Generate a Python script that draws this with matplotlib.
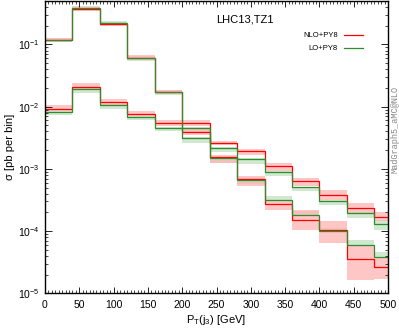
import numpy as np
import matplotlib
matplotlib.use("Agg")
import matplotlib.pyplot as plt
from matplotlib.ticker import LogLocator, MultipleLocator, LogFormatterSciNotation

plt.rcParams['font.family'] = ['Liberation Sans', 'DejaVu Sans']
plt.rcParams['mathtext.fontset'] = 'custom'
plt.rcParams['mathtext.rm'] = 'Liberation Sans'
plt.rcParams['mathtext.it'] = 'Liberation Sans:italic'

# bin edges (GeV)
edges = [0, 40, 80, 120, 160, 200, 240, 280, 320, 360, 400, 440, 480, 500]

# histogram 1 (steeply falling)
h1_nlo    = [0.116, 0.371, 0.215, 0.0617, 0.0172, 0.00389, 0.00156, 0.00069, 0.000272, 0.000152, 0.000105, 3.57e-5, 2.63e-5]
h1_nlo_lo = [0.108, 0.345, 0.200, 0.0570, 0.0158, 0.00357, 0.00125, 0.000538, 0.000221, 0.000105, 6.4e-5, 1.64e-5, 1.68e-5]
h1_nlo_hi = [0.126, 0.400, 0.232, 0.0670, 0.0187, 0.00430, 0.00170, 0.00078, 0.00032, 0.00022, 0.000148, 5.8e-5, 3.9e-5]
h1_lo     = [0.117, 0.389, 0.220, 0.0601, 0.0170, 0.00316, 0.00147, 0.00066, 0.00032, 0.000183, 0.000101, 6.0e-5, 3.81e-5]
h1_lo_lo  = [0.110, 0.360, 0.205, 0.0550, 0.0155, 0.00262, 0.00125, 0.00058, 0.000315, 0.000178, 9.9e-5, 5.9e-5, 3.75e-5]
h1_lo_hi  = [0.126, 0.420, 0.235, 0.0650, 0.0183, 0.00330, 0.00155, 0.00072, 0.00037, 0.000207, 0.000112, 7.2e-5, 4.69e-5]

# histogram 2 (slowly falling)
h2_nlo    = [0.0092, 0.0210, 0.0119, 0.0077, 0.0054, 0.0054, 0.00262, 0.00192, 0.00113, 0.00063, 0.000385, 0.000239, 0.000167]
h2_nlo_lo = [0.0085, 0.0190, 0.0108, 0.0070, 0.0049, 0.00486, 0.00238, 0.0017, 0.00094, 0.000524, 0.00032, 0.000195, 0.000147]
h2_nlo_hi = [0.0105, 0.0244, 0.0134, 0.0086, 0.0060, 0.00608, 0.00286, 0.0021, 0.00125, 0.000716, 0.00045, 0.000283, 0.000205]
h2_lo     = [0.0083, 0.0195, 0.0108, 0.0069, 0.0046, 0.0046, 0.00218, 0.00145, 0.000895, 0.000505, 0.000308, 0.000193, 0.000131]
h2_lo_lo  = [0.0074, 0.0164, 0.0093, 0.0060, 0.0040, 0.00381, 0.00185, 0.0012, 0.00076, 0.000435, 0.00026, 0.000165, 0.000105]
h2_lo_hi  = [0.0085, 0.0197, 0.0110, 0.0071, 0.0047, 0.0047, 0.00222, 0.00148, 0.00092, 0.00052, 0.000315, 0.0002, 0.000152]

RED = '#ff0000'
GREEN = '#2e8b2e'
RED_BAND = '#ffb3b3'
GREEN_BAND = '#c3e3c3'

fig = plt.figure(figsize=(3.99, 3.29), dpi=100)
ax = fig.add_axes([45/399, 1 - 293.3/329, 343/399, 292.3/329])

for lo, hi in [(h1_lo_lo, h1_lo_hi), (h2_lo_lo, h2_lo_hi)]:
    ax.stairs(hi, edges, baseline=lo, fill=True, color=GREEN_BAND, alpha=0.8, lw=0)
for lo, hi in [(h1_nlo_lo, h1_nlo_hi), (h2_nlo_lo, h2_nlo_hi)]:
    ax.stairs(hi, edges, baseline=lo, fill=True, color=RED_BAND, alpha=0.75, lw=0)

for v in [h1_nlo, h2_nlo]:
    ax.stairs(v, edges, baseline=None, color=RED, lw=0.9)
for v in [h1_lo, h2_lo]:
    ax.stairs(v, edges, baseline=None, color=GREEN, lw=0.9)

ax.set_yscale('log')
ax.set_xlim(0, 500)
ax.set_ylim(1e-5, 0.5)

ax.xaxis.set_major_locator(MultipleLocator(50))
ax.xaxis.set_minor_locator(MultipleLocator(5))
ax.yaxis.set_major_locator(LogLocator(base=10, numticks=10))
ax.yaxis.set_minor_locator(LogLocator(base=10, subs=np.arange(2, 10), numticks=20))
ax.yaxis.set_major_formatter(LogFormatterSciNotation())

ax.tick_params(which='both', direction='in', top=True, right=True, colors='black')
ax.tick_params(axis='x', which='major', length=4, width=0.6, labelsize=7.5, pad=5)
ax.tick_params(axis='x', which='minor', length=2, width=0.5)
ax.tick_params(axis='y', which='major', length=5, width=0.6, labelsize=7.5, pad=4)
ax.tick_params(axis='y', which='minor', length=2.5, width=0.5)
for s in ax.spines.values():
    s.set_linewidth(1.0)
    s.set_color('black')

ax.set_xlabel(r'P$_\mathregular{T}$(j$_\mathregular{3}$) [GeV]', fontsize=8, labelpad=2)
ax.set_ylabel(r'σ [pb per bin]', fontsize=8, labelpad=2)

ax.text(0.4985, 0.938, 'LHC13,TZ1', transform=ax.transAxes, fontsize=8, ha='left', va='center')

ax.text(0.853, 0.882, 'NLO+PY8', transform=ax.transAxes, fontsize=5.5, ha='right', va='center')
ax.text(0.853, 0.838, 'LO+PY8', transform=ax.transAxes, fontsize=5.5, ha='right', va='center')
ax.plot([0.873, 0.928], [0.882, 0.882], transform=ax.transAxes, color=RED, lw=0.9)
ax.plot([0.873, 0.928], [0.838, 0.838], transform=ax.transAxes, color=GREEN, lw=0.9)

fig.text(395/399, 1 - 129/329, 'MadGraph5_aMC@NLO', rotation=90, ha='center', va='center',
         fontsize=6.2, color='#888888', family=['Liberation Mono', 'DejaVu Sans Mono'])

fig.savefig('out.png', dpi=100)
